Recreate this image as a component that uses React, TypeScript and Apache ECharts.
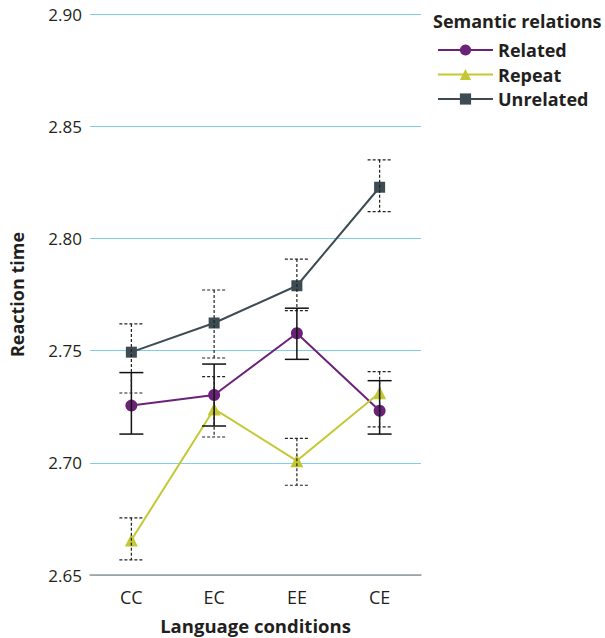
import React, { useEffect, useRef } from "react";
import * as echarts from "echarts";

const categories = ["CC", "EC", "EE", "CE"];
const yTicks = [2.65, 2.7, 2.75, 2.8, 2.85, 2.9];

const relatedMean = [2.7255, 2.7302, 2.7577, 2.7232];
const relatedLow = [2.7128, 2.7164, 2.7461, 2.7128];
const relatedHigh = [2.7402, 2.744, 2.7689, 2.7366];

const repeatMean = [2.6656, 2.724, 2.7009, 2.7312];
const repeatLow = [2.6567, 2.7115, 2.69, 2.716];
const repeatHigh = [2.6755, 2.7384, 2.7109, 2.7406];

const unrelatedMean = [2.7493, 2.7623, 2.7789, 2.8228];
const unrelatedLow = [2.7311, 2.7467, 2.7678, 2.8119];
const unrelatedHigh = [2.7619, 2.777, 2.7908, 2.835];

const FONT = "'Open Sans', 'Noto Sans', sans-serif";
const C_REL = "#6b2379";
const C_REP = "#c3c833";
const C_UNR = "#3d4b53";
const TXT = "#231f20";

function errorSeries(low: number[], high: number[], dashed: boolean, name: string) {
  return {
    type: "custom",
    name,
    z: 5,
    silent: true,
    data: categories.map((_, i) => [i, low[i], high[i]]),
    renderItem: (params: any, api: any) => {
      const x = api.value(0);
      const lo = api.coord([x, api.value(1)]);
      const hi = api.coord([x, api.value(2)]);
      const hw = 12;
      const style = {
        stroke: dashed ? "#222" : "#111",
        lineWidth: dashed ? 1.2 : 1.5,
        lineDash: dashed ? [3, 2] : null,
        fill: null,
      };
      return {
        type: "group",
        children: [
          { type: "line", shape: { x1: hi[0], y1: hi[1], x2: lo[0], y2: lo[1] }, style },
          { type: "line", shape: { x1: hi[0] - hw, y1: hi[1], x2: hi[0] + hw, y2: hi[1] }, style },
          { type: "line", shape: { x1: lo[0] - hw, y1: lo[1], x2: lo[0] + hw, y2: lo[1] }, style },
        ],
      };
    },
  };
}

export default function App() {
  const ref = useRef<HTMLDivElement>(null);
  useEffect(() => {
    if (!ref.current) return;
    const chart = echarts.init(ref.current, null, { renderer: "svg" });
    chart.setOption({
      animation: false,
      textStyle: { fontFamily: FONT },
      grid: {
        left: 90,
        right: 184,
        top: 14,
        bottom: 63,
        containLabel: false,
        outerBoundsMode: "none",
      },
      graphic: [
        {
          type: "text",
          left: 433,
          top: 12,
          style: {
            text: "Semantic relations",
            font: `bold 18px ${FONT}`,
            fill: TXT,
          },
        },
      ],
      legend: {
        left: 432,
        top: 36,
        orient: "vertical",
        itemWidth: 55,
        itemHeight: 14,
        itemGap: 6.5,
        data: ["Related", "Repeat", "Unrelated"],
        textStyle: { fontFamily: FONT, fontWeight: "bold", fontSize: 18, color: TXT },
      },
      xAxis: {
        type: "category",
        data: categories,
        boundaryGap: true,
        axisLine: { show: true, lineStyle: { color: "#9a9a9a", width: 1.5 } },
        axisTick: { show: false },
        axisLabel: { fontSize: 18, color: TXT, margin: 13, fontFamily: FONT },
        name: "Language conditions",
        nameLocation: "middle",
        nameGap: 41,
        nameTextStyle: { fontSize: 18.5, fontWeight: "bold", color: TXT, fontFamily: FONT },
      },
      yAxis: {
        type: "value",
        min: 2.65,
        max: 2.9,
        interval: 0.05,
        axisLine: { show: false },
        axisTick: { show: false },
        axisLabel: {
          fontSize: 17,
          color: TXT,
          margin: 8,
          fontFamily: FONT,
          formatter: (v: number) => {
            const t = yTicks.find((k) => Math.abs(k - v) < 1e-6);
            return t !== undefined ? t.toFixed(2) : "";
          },
        },
        splitLine: { show: true, lineStyle: { color: "#7fcdee", width: 1 } },
        name: "Reaction time",
        nameLocation: "middle",
        nameGap: 64,
        nameTextStyle: { fontSize: 18, fontWeight: "bold", color: TXT, fontFamily: FONT },
      },
      series: [
        {
          name: "Related",
          type: "line",
          data: relatedMean,
          symbol: "circle",
          symbolSize: 12,
          z: 3,
          lineStyle: { color: C_REL, width: 2 },
          itemStyle: { color: C_REL },
        },
        {
          name: "Repeat",
          type: "line",
          data: repeatMean,
          symbol: "triangle",
          symbolSize: 13,
          z: 3,
          lineStyle: { color: C_REP, width: 2 },
          itemStyle: { color: C_REP },
        },
        {
          name: "Unrelated",
          type: "line",
          data: unrelatedMean,
          symbol: "rect",
          symbolSize: 11,
          z: 3,
          lineStyle: { color: C_UNR, width: 2 },
          itemStyle: { color: C_UNR },
        },
        errorSeries(relatedLow, relatedHigh, false, "errRelated"),
        errorSeries(repeatLow, repeatHigh, true, "errRepeat"),
        errorSeries(unrelatedLow, unrelatedHigh, true, "errUnrelated"),
      ],
    });
    return () => chart.dispose();
  }, []);
  return (
    <div
      ref={ref}
      style={{ position: "absolute", left: 0, top: 0, width: 605, height: 638 }}
    />
  );
}
